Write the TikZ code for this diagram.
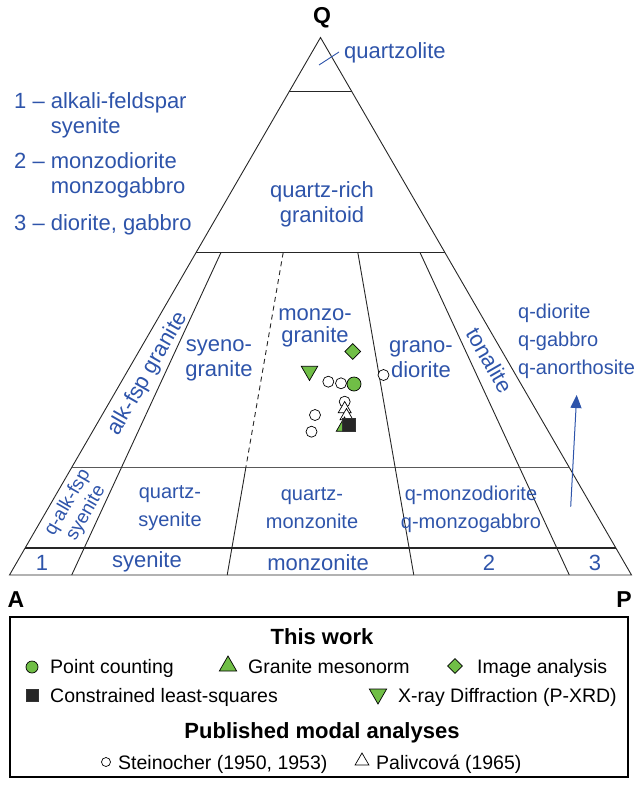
\documentclass[tikz,border=0pt]{standalone}
\usepackage{fontspec}
\setmainfont{Liberation Sans}
\usetikzlibrary{calc,shapes.geometric,arrows.meta}
\definecolor{qapblue}{RGB}{46,84,170}
\definecolor{markgreen}{RGB}{112,190,70}

\begin{document}
\begin{tikzpicture}[x=1pt,y=-1pt,
    field/.style={line width=0.9pt, black!85},
    bound/.style={line width=1.5pt, black!85},
    lbl/.style={text=qapblue, font=\fontsize{22}{25}\selectfont, align=center, inner sep=0pt},
    lblsm/.style={text=qapblue, font=\fontsize{20}{28}\selectfont, align=center, inner sep=0pt},
    apex/.style={font=\bfseries\fontsize{23}{26}\selectfont, inner sep=0pt},
    legtxt/.style={font=\fontsize{19.5}{22}\selectfont, anchor=base west, inner sep=0pt},
    legtitle/.style={font=\bfseries\fontsize{22}{26}\selectfont, inner sep=0pt},
    openpt/.style={circle, draw=black, fill=white, line width=0.7pt, minimum size=11pt, inner sep=0pt},
    pcount/.style={circle, draw=black, fill=markgreen, line width=0.7pt, minimum size=14pt, inner sep=0pt},
    meso/.style={regular polygon, regular polygon sides=3, draw=black, fill=markgreen, line width=0.7pt, minimum size=19pt, inner sep=0pt},
    opentri/.style={regular polygon, regular polygon sides=3, draw=black, fill=white, line width=0.7pt, minimum size=15pt, inner sep=0pt},
    xrd/.style={meso, shape border rotate=180},
    imgan/.style={diamond, draw=black, fill=markgreen, line width=0.7pt, minimum size=16pt, inner sep=0pt},
    lsq/.style={rectangle, draw=black!80, fill=black!85, minimum size=13pt, inner sep=0pt}]
  \useasboundingbox (0,0) rectangle (635,785);
  \coordinate (A) at (  9.5,575.0);
  \coordinate (P) at (631.5,575.0);
  \coordinate (Q) at (320.5, 37.5);
  \foreach \q/\f in {5/0.05,20/0.2,60/0.6,90/0.9} {
    \coordinate (L\q) at ($(A)!\f!(Q)$);
    \coordinate (R\q) at ($(P)!\f!(Q)$);
  }
  \foreach \n/\r in {a/0.1,b/0.35,c/0.65,d/0.9} {
    \coordinate (\n0)  at ($(A)!\r!(P)$);
    \coordinate (\n20) at ($(\n0)!0.2!(Q)$);
    \coordinate (\n60) at ($(\n0)!0.6!(Q)$);
  }
  \draw[field] (A) -- (P) -- (Q) -- cycle;
  \draw[field] (L90) -- (R90);
  \draw[bound] (L60) -- (R60);
  \draw[field, black!65] (L20) -- (R20);
  \draw[bound] (L5) -- (R5);
  \draw[field] (a60) -- (a0);
  \draw[field, dash pattern=on 5pt off 4pt] (b60) -- (b20);
  \draw[field] (b20) -- (b0);
  \draw[field] (c60) -- (c0);
  \draw[field] (d60) -- (d0);

  \node[apex] (labQ) at (322, 18) {Q};
  \node[apex] (labA) at ( 16,600) {A};
  \node[apex] (labP) at (624,600) {P};

  \node[lbl, anchor=west] (quartzolite) at (344,53) {quartzolite};
  \coordinate (qzFoot) at (319,65);
  \draw[qapblue, line width=0.9pt] (qzFoot) -- ([xshift=-5pt,yshift=1pt]quartzolite.west);
  \node[lbl] (qrich) at (322,204) {quartz-rich\\granitoid};
  \node[lbl, anchor=west, align=left] (key1) at (14,115.5) {1 – alkali-feldspar\\\phantom{1 – }syenite};
  \node[lbl, anchor=west, align=left] (key2) at (14,175.5) {2 – monzodiorite\\\phantom{2 – }monzogabbro};
  \node[lbl, anchor=west] (key3) at (14,225) {3 – diorite, gabbro};

  \node[lbl, rotate=60] (alkgr) at (148,374) {alk-fsp granite};
  \node[lbl] (syenogr) at (219,360) {syeno-\\granite};
  \node[lbl, font=\fontsize{22}{22}\selectfont] (monzogr) at (315,328) {monzo-\\granite};
  \node[lbl] (granodio) at (421,359) {grano-\\diorite};
  \node[lbl, rotate=-60] (tonal) at (490,360) {tonalite};
  \node[lblsm, anchor=west, align=left] (qdio) at (518,341) {q-diorite\\q-gabbro\\q-anorthosite};

  \node[lblsm, rotate=60, font=\fontsize{19}{21}\selectfont] (qalk) at (77,508) {q-alk-fsp\\syenite};
  \node[lblsm] (qsy) at (170,508) {quartz-\\syenite};
  \node[lblsm] (qmz) at (312,508) {quartz-\\monzonite};
  \node[lblsm] (qmd) at (471,509) {q-monzodiorite\\q-monzogabbro};

  \node[lbl] (f1)  at ( 42,563) {1};
  \node[lbl] (fsy) at (147,562) {syenite};
  \node[lbl] (fmz) at (318,563) {monzonite};
  \node[lbl] (f2)  at (489,563) {2};
  \node[lbl] (f3)  at (595,563) {3};

  \coordinate (arrFoot) at (570.7,506.7);
  \coordinate (arrTip)  at (576.7,395.0);
  \draw[qapblue, line width=1pt, -{Triangle[length=13pt,width=11pt]}] (arrFoot) -- (arrTip);

  \node[imgan]   (ia1)  at (352.7,351.5) {};
  \node[xrd]     (xrd1) at (309.5,371.0) {};
  \node[openpt]  (st1)  at (328.3,381.7) {};
  \node[openpt]  (st2)  at (341.0,383.3) {};
  \node[pcount]  (pc1)  at (354.0,384.0) {};
  \node[openpt]  (st3)  at (383.5,375.0) {};
  \node[openpt]  (st4)  at (344.7,401.7) {};
  \node[opentri] (pal1) at (344.7,409.0) {};
  \node[opentri] (pal2) at (346.5,416.0) {};
  \node[meso]    (gm1)  at (344.5,426.5) {};
  \node[lsq]     (lsq1) at (348.5,425.0) {};
  \node[openpt]  (st5)  at (315.0,415.0) {};
  \node[openpt]  (st6)  at (311.5,431.7) {};

  \draw[line width=1.2pt] (10,617) rectangle (628,777);
  \node[legtitle] (thiswork) at (322,637) {This work};
  \node[pcount, minimum size=12pt] (kpc) at ( 32,667) {};
  \node[legtxt] (tpc) at ( 50,673) {Point counting};
  \node[meso, minimum size=20pt]  (kgm) at (228,666) {};
  \node[legtxt] (tgm) at (248,673) {Granite mesonorm};
  \node[imgan, minimum size=15pt] (kia) at (455,666) {};
  \node[legtxt] (tia) at (477,673) {Image analysis};
  \node[lsq, minimum size=12pt]   (klsq) at ( 32,695) {};
  \node[legtxt] (tlsq) at ( 50,702) {Constrained least-squares};
  \node[xrd, minimum size=20pt]   (kxrd) at (378,694) {};
  \node[legtxt] (txrd) at (398,702) {X-ray Diffraction (P-XRD)};
  \node[legtitle] (published) at (322,733) {Published modal analyses};
  \node[openpt, minimum size=9pt] (kst) at (106,762) {};
  \node[legtxt] (tst) at (118,769) {Steinocher (1950, 1953)};
  \node[opentri, minimum size=16pt] (kpal) at (362,761) {};
  \node[legtxt] (tpal) at (376,769) {Palivcová (1965)};
\end{tikzpicture}
\end{document}
